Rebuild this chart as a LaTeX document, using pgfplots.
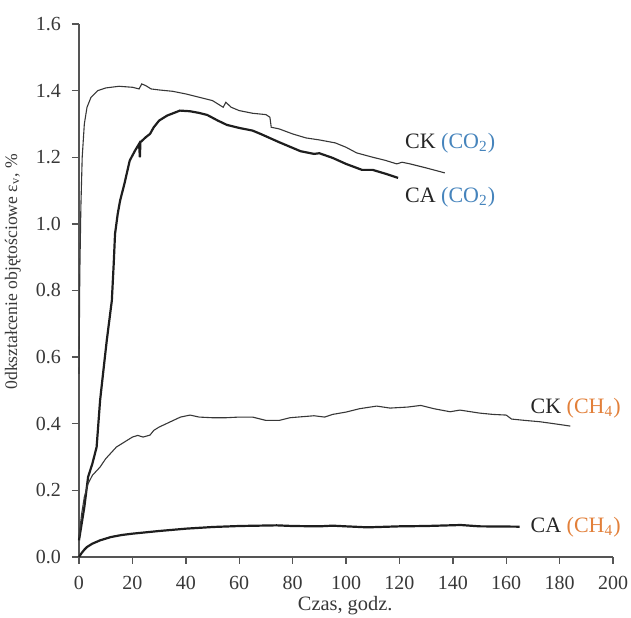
\documentclass[border=0pt]{standalone}
\usepackage{fontspec}
\setmainfont{Liberation Serif}
\usepackage{pgfplots}
\pgfplotsset{compat=1.18}
\definecolor{co2blue}{RGB}{70,132,188}
\definecolor{ch4orange}{RGB}{226,128,58}
\definecolor{axgray}{RGB}{85,85,85}
\definecolor{linedark}{RGB}{30,30,30}
\definecolor{linethin}{RGB}{55,55,55}
\begin{document}
\begin{tikzpicture}
\begin{axis}[
  scale only axis,
  width=267pt, height=266.5pt,
  xmin=0, xmax=200, ymin=0, ymax=1.6,
  axis x line=bottom, axis y line=left,
  axis line style={-, axgray, line width=0.7pt},
  tick align=outside,
  major tick length=3.5pt,
  tick style={axgray, line width=0.7pt},
  xtick={0,20,...,200},
  ytick={0,0.2,...,1.6},
  /pgf/number format/assume math mode=true,
  ticklabel style={font=\fontsize{10}{12}\selectfont, text=black!78},
  xticklabel style={yshift=-2.5pt},
  yticklabel style={xshift=-2pt, /pgf/number format/.cd, fixed, fixed zerofill, precision=1},
  xlabel={Czas, godz.},
  ylabel={0dkształcenie objętościowe ε\textsubscript{v}, \%},
  xlabel style={font=\fontsize{10.2}{12}\selectfont, text=black!78, at={(axis description cs:0.4985,-0.092)}, anchor=center},
  ylabel style={font=\fontsize{8.8}{11}\selectfont, text=black!78, at={(axis description cs:-0.1236,0.535)}, anchor=center},
  clip=false,
]
% CK (CO2) thin
\addplot[linethin, line width=0.55pt] coordinates {
(0,0.55) (0.3,0.85) (0.7,1.05) (1.2,1.2) (2,1.3) (3,1.35) (4.5,1.38) (7,1.40) (10,1.408) (15,1.413) (20,1.41) (22.5,1.405) (23.5,1.42) (25,1.415) (27,1.405) (30,1.402) (35,1.398) (40,1.39) (45,1.38) (50,1.37) (53,1.355) (54,1.35) (55,1.365) (57,1.35) (60,1.34) (65,1.332) (70,1.328) (71.5,1.32) (72,1.29) (75,1.285) (80,1.27) (85,1.258) (90,1.252) (96,1.243) (100,1.23) (104,1.213) (110,1.20) (115,1.19) (119,1.18) (121,1.185) (124,1.18) (130,1.168) (137,1.153)
};
% CA (CO2) thick
\addplot[linedark, line width=1.1pt] coordinates {
(0,0.05) (1,0.1) (2,0.15) (3.4,0.24) (5,0.28) (6.6,0.33) (7.9,0.47) (9,0.55) (10.4,0.65) (12.3,0.77) (13,0.88) (13.5,0.97) (14.5,1.03) (15.4,1.07) (17,1.12) (19,1.19) (21,1.22) (22.5,1.24) (22.8,1.20) (23,1.245) (25,1.26) (26.6,1.27) (28,1.29) (30,1.31) (33,1.325) (37.8,1.34) (41.6,1.338) (45,1.333) (48,1.327) (52,1.31) (55.4,1.297) (60,1.288) (65,1.28) (68,1.27) (75,1.245) (83,1.218) (88,1.21) (90,1.212) (95,1.198) (100,1.18) (106,1.162) (110,1.162) (115,1.15) (119.5,1.138)
};
% CK (CH4) thin
\addplot[linethin, line width=0.55pt] coordinates {
(0,0.06) (1,0.13) (2,0.18) (3.4,0.22) (5,0.245) (7.9,0.27) (10,0.295) (14,0.33) (17,0.345) (20,0.36) (22,0.365) (24,0.36) (26.6,0.366) (28,0.38) (30,0.39) (34,0.405) (38,0.42) (41.6,0.426) (45,0.42) (50,0.418) (55,0.418) (60,0.42) (65,0.42) (70,0.41) (75,0.41) (79,0.418) (85,0.422) (88,0.424) (92,0.42) (95,0.428) (100,0.435) (105,0.445) (111.5,0.453) (116.5,0.447) (123,0.45) (128,0.455) (133,0.445) (139,0.436) (142.7,0.441) (150,0.432) (155,0.428) (160,0.426) (162,0.414) (167,0.41) (172.6,0.406) (178,0.4) (184,0.393)
};
% CA (CH4) thick
\addplot[linedark, line width=1.1pt] coordinates {
(0,0) (1,0.012) (2,0.022) (3,0.03) (5,0.04) (7.9,0.05) (12,0.06) (16,0.066) (20,0.07) (30,0.078) (40,0.085) (50,0.09) (60,0.093) (74,0.095) (80,0.093) (90,0.092) (95,0.094) (100,0.092) (108,0.089) (120,0.092) (130,0.093) (143,0.096) (150,0.092) (165,0.091)
};
\node[anchor=west, font=\fontsize{11}{12}\selectfont, text=black!85, inner sep=0pt] at (axis cs:122,1.243) {CK \textcolor{co2blue}{(CO\textsubscript{2})}};
\node[anchor=west, font=\fontsize{11}{12}\selectfont, text=black!85, inner sep=0pt] at (axis cs:122,1.081) {CA \textcolor{co2blue}{(CO\textsubscript{2})}};
\node[anchor=west, font=\fontsize{11}{12}\selectfont, text=black!85, inner sep=0pt] at (axis cs:169,0.447) {CK \textcolor{ch4orange}{(CH\textsubscript{4})}};
\node[anchor=west, font=\fontsize{11}{12}\selectfont, text=black!85, inner sep=0pt] at (axis cs:169,0.09) {CA \textcolor{ch4orange}{(CH\textsubscript{4})}};
\end{axis}
\pgfresetboundingbox
\path[use as bounding box] ([shift={(-39.5pt,-30.5pt)}]current axis.south west) rectangle ([shift={(9pt,12pt)}]current axis.north east);
\end{tikzpicture}
\end{document}
